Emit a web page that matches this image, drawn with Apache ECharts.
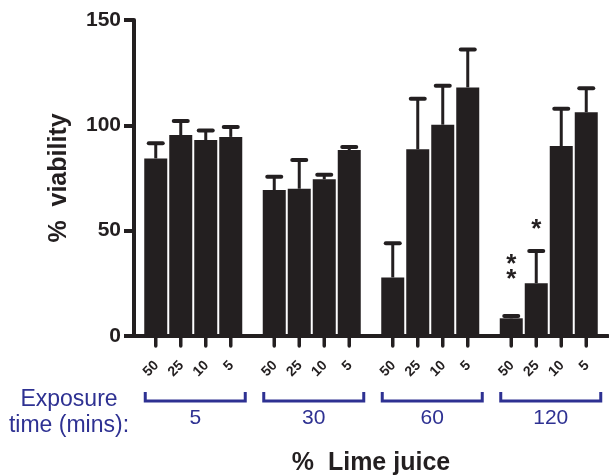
<!DOCTYPE html>
<html>
<head>
<meta charset="utf-8">
<script src="https://cdn.jsdelivr.net/npm/echarts@6/dist/echarts.min.js"></script>
<style>
  html, body { margin: 0; padding: 0; background: #fff; }
  #chart { width: 609px; height: 476px; }
</style>
</head>
<body>
<div id="chart"></div>
<script>
// exposure time groups (mins) and lime juice concentrations (%)
const exposureTimes = ['5', '30', '60', '120'];
const limeJuice = ['50', '25', '10', '5'];

// mean % viability, one value per exposure time
const values50 = [84.3, 69.3, 27.8, 8.4];
const values25 = [95.4, 69.9, 88.6, 25.0];
const values10 = [93.0, 74.4, 100.3, 90.2];
const values5 = [94.5, 88.3, 118.0, 106.2];

// upper error (SEM)
const sem50 = [7.2, 6.3, 16.2, 1.1];
const sem25 = [6.6, 13.6, 24.0, 15.3];
const sem10 = [4.5, 2.2, 18.5, 17.7];
const sem5 = [4.7, 1.4, 18.0, 11.4];

// significance marks
const sig50 = ['', '', '', '**'];
const sig25 = ['', '', '', '*'];
const sig10 = ['', '', '', ''];
const sig5 = ['', '', '', ''];

const yTicks = [0, 50, 100, 150];

const allValues = [values50, values25, values10, values5];
const allSem = [sem50, sem25, sem10, sem5];
const allSig = [sig50, sig25, sig10, sig5];

const INK = '#231f20';
const BLUE = '#2e3192';
const FONT = '"Liberation Sans", Arial, sans-serif';
const BAR_W = 23;
const BAR_STEP = 25;

const chart = echarts.init(document.getElementById('chart'));

const barSeries = limeJuice.map((name, i) => ({
  name: name,
  type: 'bar',
  data: allValues[i],
  barWidth: BAR_W,
  barGap: ((BAR_STEP - BAR_W) / BAR_W * 100) + '%',
  itemStyle: { color: INK },
  label: {
    show: true,
    position: 'bottom',
    distance: 28,
    offset: [1, 0],
    rotate: 45,
    align: 'right',
    verticalAlign: 'middle',
    formatter: '{a}',
    color: INK,
    fontFamily: FONT,
    fontWeight: 'bold',
    fontSize: 14
  },
  silent: true,
  z: 2
}));

const errorSeries = limeJuice.map((name, i) => ({
  type: 'custom',
  clip: false,
  z: 3,
  silent: true,
  encode: { x: 0, y: 1 },
  data: allValues[i].map((v, j) => [j, v, allSem[i][j]]),
  renderItem: (params, api) => {
    const cat = api.value(0);
    const v = api.value(1);
    const e = api.value(2);
    const base = api.coord([cat, 0]);
    const top = api.coord([cat, v]);
    const cap = api.coord([cat, v + e]);
    const x = base[0] + (i - 1.5) * BAR_STEP;
    const children = [
      { type: 'line', shape: { x1: x, y1: top[1], x2: x, y2: cap[1] },
        style: { stroke: INK, lineWidth: 3 } },
      { type: 'line', shape: { x1: x - 7, y1: cap[1], x2: x + 7, y2: cap[1] },
        style: { stroke: INK, lineWidth: 4, lineCap: 'round' } },
      // tick under the bar
      { type: 'line', shape: { x1: x, y1: base[1], x2: x, y2: base[1] + 10 },
        style: { stroke: INK, lineWidth: 3.5, lineCap: 'round' } }
    ];
    const sig = allSig[i][params.dataIndex];
    for (let k = 0; k < sig.length; k++) {
      children.push({
        type: 'text',
        style: {
          text: '*', x: x, y: cap[1] - 27 - 15 * (sig.length - 1) - 15 * k + 6,
          fill: INK, font: 'bold 26px ' + FONT,
          align: 'center', verticalAlign: 'middle'
        }
      });
    }
    return { type: 'group', children: children };
  }
}));

const bracketSeries = {
  type: 'custom',
  clip: false,
  silent: true,
  encode: { x: 0, y: 1 },
  data: exposureTimes.map((t, j) => [j, 0]),
  renderItem: (params, api) => {
    const c = api.coord([api.value(0), 0]);
    const cx = c[0] + 2;
    const y = c[1] + 65;
    return {
      type: 'group',
      children: [
        { type: 'polyline',
          shape: { points: [[cx - 50, y - 9], [cx - 50, y], [cx + 50, y], [cx + 50, y - 9]] },
          style: { stroke: BLUE, lineWidth: 3, fill: null } },
        { type: 'text',
          style: { text: exposureTimes[params.dataIndex], x: cx, y: y + 17,
            fill: BLUE, font: '21px ' + FONT, align: 'center', verticalAlign: 'middle' } }
      ]
    };
  }
};

const option = {
  backgroundColor: '#fff',
  animation: false,
  grid: { left: 134, right: 1, top: 20, bottom: 140, containLabel: false, outerBoundsMode: 'none' },
  xAxis: {
    type: 'category',
    data: exposureTimes,
    axisLine: { lineStyle: { color: INK, width: 4 } },
    axisTick: { show: false },
    axisLabel: { show: false },
    name: '%  Lime juice',
    nameLocation: 'middle',
    nameGap: 115,
    nameTextStyle: { color: INK, fontFamily: FONT, fontWeight: 'bold', fontSize: 25 }
  },
  yAxis: {
    type: 'value',
    min: yTicks[0],
    max: yTicks[yTicks.length - 1],
    interval: yTicks[1] - yTicks[0],
    splitLine: { show: false },
    axisLine: { show: true, lineStyle: { color: INK, width: 4 } },
    axisTick: { show: true, length: 10, lineStyle: { color: INK, width: 4 } },
    axisLabel: { color: INK, fontFamily: FONT, fontWeight: 'bold', fontSize: 21, margin: 13 },
    name: '%  viability',
    nameLocation: 'middle',
    nameGap: 62,
    nameTextStyle: { color: INK, fontFamily: FONT, fontWeight: 'bold', fontSize: 25 }
  },
  graphic: [{
    type: 'text',
    x: 69,
    y: 387,
    style: {
      text: 'Exposure\ntime (mins):',
      fill: BLUE,
      font: '23px ' + FONT,
      align: 'center',
      textAlign: 'center',
      lineHeight: 26
    }
  }],
  series: [...barSeries, ...errorSeries, bracketSeries]
};

chart.setOption(option);
</script>
</body>
</html>
